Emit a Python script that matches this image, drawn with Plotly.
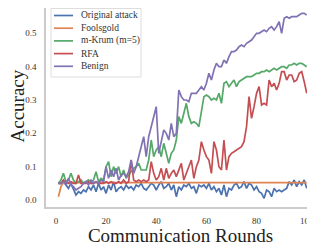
import plotly.graph_objects as go

rounds = list(range(1, 101))

original_attack = [
    0.05, 0.05, 0.055, 0.045, 0.035, 0.05, 0.03, 0.015, 0.025, 0.02,
    0.03, 0.025, 0.04, 0.03, 0.045, 0.025, 0.05, 0.03, 0.04, 0.02,
    0.045, 0.03, 0.055, 0.025, 0.035, 0.04, 0.03, 0.045, 0.035, 0.04,
    0.03, 0.045, 0.04, 0.05, 0.035, 0.03, 0.04, 0.05, 0.045, 0.03,
    0.045, 0.055, 0.035, 0.04, 0.05, 0.03, 0.045, 0.01, 0.04, 0.03,
    0.045, 0.04, 0.05, 0.035, 0.04, 0.02, 0.045, 0.04, 0.045, 0.035,
    0.05, 0.03, 0.04, 0.025, 0.035, 0.015, 0.045, 0.01, 0.035, 0.03,
    0.045, 0.05, 0.035, 0.04, 0.055, 0.035, 0.05, 0.045, 0.03, 0.04,
    0.025, 0.02, 0.005, 0.03, 0.025, 0.01, 0.035, 0.025, 0.03, 0.025,
    0.03, 0.035, 0.055, 0.045, 0.06, 0.04, 0.055, 0.045, 0.06, 0.035,
]

foolsgold = [
    0.01, 0.04, 0.052, 0.052, 0.052, 0.052, 0.052, 0.052, 0.052, 0.052,
    0.052, 0.052, 0.052, 0.052, 0.052, 0.052, 0.052, 0.052, 0.052, 0.052,
    0.052, 0.052, 0.052, 0.052, 0.052, 0.052, 0.052, 0.052, 0.052, 0.052,
    0.052, 0.052, 0.052, 0.052, 0.052, 0.052, 0.052, 0.052, 0.052, 0.052,
    0.052, 0.052, 0.052, 0.052, 0.052, 0.052, 0.052, 0.052, 0.052, 0.052,
    0.052, 0.052, 0.052, 0.052, 0.052, 0.052, 0.052, 0.052, 0.052, 0.052,
    0.052, 0.052, 0.052, 0.052, 0.052, 0.052, 0.052, 0.052, 0.052, 0.052,
    0.052, 0.052, 0.052, 0.052, 0.052, 0.052, 0.052, 0.052, 0.052, 0.052,
    0.052, 0.052, 0.052, 0.052, 0.052, 0.052, 0.052, 0.052, 0.052, 0.052,
    0.052, 0.052, 0.052, 0.052, 0.052, 0.052, 0.052, 0.052, 0.052, 0.052,
]

m_krum = [
    0.05, 0.06, 0.08, 0.055, 0.06, 0.08, 0.06, 0.05, 0.055, 0.06,
    0.05, 0.055, 0.06, 0.05, 0.06, 0.085, 0.055, 0.065, 0.06, 0.1,
    0.115, 0.07, 0.1, 0.08, 0.1, 0.07, 0.09, 0.065, 0.075, 0.085,
    0.095, 0.1, 0.11, 0.09, 0.09, 0.09, 0.12, 0.18, 0.13, 0.15,
    0.16, 0.13, 0.17, 0.14, 0.11, 0.14, 0.15, 0.18, 0.25, 0.23,
    0.26, 0.29, 0.25, 0.23, 0.235, 0.23, 0.22, 0.26, 0.31, 0.315,
    0.31, 0.30, 0.305, 0.30, 0.32, 0.29, 0.35, 0.355, 0.34, 0.35,
    0.36, 0.34, 0.355, 0.36, 0.365, 0.37, 0.37, 0.37, 0.375, 0.38,
    0.38, 0.385, 0.385, 0.39, 0.385, 0.39, 0.395, 0.39, 0.395, 0.4,
    0.4, 0.395, 0.405, 0.405, 0.41, 0.405, 0.41, 0.41, 0.405, 0.4,
]

rfa = [
    0.05, 0.05, 0.06, 0.05, 0.05, 0.055, 0.05, 0.05, 0.075, 0.05,
    0.05, 0.05, 0.055, 0.05, 0.05, 0.055, 0.05, 0.05, 0.05, 0.055,
    0.05, 0.055, 0.05, 0.05, 0.055, 0.05, 0.06, 0.05, 0.055, 0.12,
    0.06, 0.055, 0.06, 0.055, 0.06, 0.055, 0.06, 0.115, 0.08, 0.06,
    0.07, 0.095, 0.06, 0.095, 0.065, 0.08, 0.09, 0.07, 0.09, 0.11,
    0.06, 0.08, 0.1, 0.12, 0.065, 0.1, 0.12, 0.175, 0.15, 0.13,
    0.12, 0.08, 0.175, 0.15, 0.1, 0.09, 0.18, 0.09, 0.13, 0.14,
    0.145, 0.15, 0.155, 0.16, 0.175, 0.22, 0.31, 0.245, 0.28, 0.32,
    0.34, 0.285, 0.29, 0.285, 0.36, 0.34, 0.35, 0.33, 0.35, 0.385,
    0.385, 0.36, 0.375, 0.375, 0.355, 0.36, 0.38, 0.385, 0.355, 0.32,
]

benign = [
    0.05, 0.05, 0.055, 0.05, 0.065, 0.045, 0.04, 0.03, 0.035, 0.04,
    0.05, 0.055, 0.045, 0.06, 0.05, 0.055, 0.05, 0.06, 0.055, 0.1,
    0.065, 0.09, 0.07, 0.095, 0.06, 0.075, 0.08, 0.07, 0.085, 0.12,
    0.08, 0.1, 0.13, 0.16, 0.19, 0.13, 0.19, 0.22, 0.25, 0.28,
    0.14, 0.18, 0.21, 0.2, 0.18, 0.23, 0.19, 0.2, 0.33, 0.31,
    0.30, 0.30, 0.295, 0.32, 0.32, 0.32, 0.33, 0.34, 0.33, 0.35,
    0.38, 0.36, 0.39, 0.41, 0.40, 0.40, 0.42, 0.41, 0.43, 0.445,
    0.445, 0.45, 0.46, 0.465, 0.46, 0.47, 0.475, 0.48, 0.49, 0.5,
    0.5, 0.505, 0.51, 0.505, 0.515, 0.52, 0.51, 0.52, 0.535, 0.5,
    0.545, 0.55, 0.545, 0.55, 0.55, 0.55, 0.555, 0.56, 0.56, 0.555,
]

series_names = ["Original attack", "Foolsgold", "m-Krum (m=5)", "RFA", "Benign"]
series_values = [original_attack, foolsgold, m_krum, rfa, benign]
colors = ["#4C72B0", "#DD8452", "#55A868", "#C44E52", "#8172B3"]

x_ticks = [0, 20, 40, 60, 80, 100]
y_ticks = [0.0, 0.1, 0.2, 0.3, 0.4, 0.5]
y_tick_labels = ["0.0", "0.1", "0.2", "0.3", "0.4", "0.5"]

# the page body adds an 8px offset, so the figure is sized to the visible area
W, H = 307, 238
ML, MR, MT, MB = 38, 0, 0, 39
PW, PH = W - ML - MR, H - MT - MB

def px(x):
    return (x - ML) / PW

def py(y):
    return (H - MB - y) / PH

serif = "Liberation Serif"

fig = go.Figure()
for name, vals, col in zip(series_names, series_values, colors):
    fig.add_trace(go.Scatter(x=rounds, y=vals, mode="lines", name=name,
                             line=dict(color=col, width=1.7), showlegend=False))

# compact legend (box, line samples, labels)
shapes = [dict(type="rect", xref="paper", yref="paper",
               x0=px(43), x1=px(133), y0=py(69), y1=py(0.5),
               line=dict(color="#dddddd", width=1), fillcolor="rgba(255,255,255,0.9)",
               layer="above")]
annotations = []
for i, (name, col) in enumerate(zip(series_names, colors)):
    yy = 7.5 + i * 12.7
    shapes.append(dict(type="line", xref="paper", yref="paper",
                       x0=px(46), x1=px(65), y0=py(yy), y1=py(yy),
                       line=dict(color=col, width=1.7), layer="above"))
    annotations.append(dict(xref="paper", yref="paper", x=px(71), y=py(yy),
                            xanchor="left", yanchor="middle", showarrow=False,
                            text=name, font=dict(family=serif, size=9.5, color="#333333")))

# y-axis title
annotations.append(dict(xref="paper", yref="paper", x=px(8.5), y=py(98),
                        xanchor="center", yanchor="middle", showarrow=False, textangle=-90,
                        borderpad=0,
                        text="Accuracy", font=dict(family=serif, size=19, color="#222222")))

fig.update_layout(
    width=W, height=H,
    margin=dict(l=ML, r=MR, t=MT, b=MB, autoexpand=False),
    paper_bgcolor="white", plot_bgcolor="white",
    font=dict(family=serif, color="#333333"),
    showlegend=False,
    shapes=shapes, annotations=annotations,
)
fig.update_xaxes(range=[-3.95, 103.3], tickvals=x_ticks, showgrid=False, zeroline=False,
                 showline=True, linecolor="#cccccc", linewidth=1.5, ticks="",
                 automargin=False, ticklabelstandoff=4, ticklabeloverflow="allow",
                 tickfont=dict(family=serif, size=9, color="#333333"),
                 title=dict(text="Communication Rounds", font=dict(family=serif, size=19, color="#222222"),
                            standoff=6))
fig.update_yaxes(range=[-0.021, 0.576], tickvals=y_ticks, ticktext=y_tick_labels,
                 showgrid=False, zeroline=False,
                 showline=True, linecolor="#cccccc", linewidth=1.5, ticks="",
                 automargin=False, ticklabelstandoff=6,
                 tickfont=dict(family=serif, size=9, color="#333333"))

fig.write_html("out.html", config={"displayModeBar": False})
